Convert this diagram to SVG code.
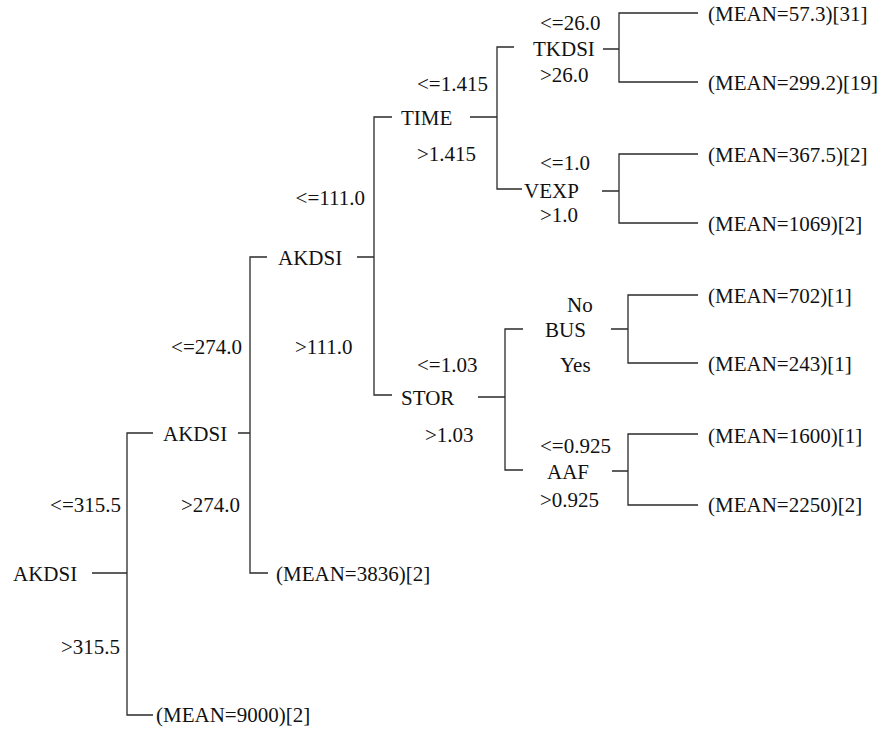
<svg xmlns="http://www.w3.org/2000/svg" width="886" height="731" viewBox="0 0 886 731">
<defs>
<marker id="none" markerWidth="1" markerHeight="1"/>
</defs>
<rect width="886" height="731" fill="#fff"/>
<g id="connectors" fill="none" stroke="#2a2a2a" stroke-width="1.3">
<path d="M92 573H127M153 433H127V715H153"/>
<path d="M238 433H250M267 257H250V573H268"/>
<path d="M357 257H374M392 117H374V395H392"/>
<path d="M470 117H497M514 47H497V189H522"/>
<path d="M603 49H619M698 13H619V82H698"/>
<path d="M602 191H619M698 154H619V223H698"/>
<path d="M478 397H505M523 329H505V470H523"/>
<path d="M611 329H628M698 295H628V363H698"/>
<path d="M612 471H628M698 434H628V505H698"/>
</g>
<g id="edge-labels" fill="#111">
<text font-family="Liberation Serif" font-size="21" text-anchor="end" x="121" y="512">&lt;=315.5</text>
<text font-family="Liberation Serif" font-size="21" text-anchor="end" x="120" y="654">&gt;315.5</text>
<text font-family="Liberation Serif" font-size="21" text-anchor="end" x="242" y="354">&lt;=274.0</text>
<text font-family="Liberation Serif" font-size="21" text-anchor="end" x="240" y="512">&gt;274.0</text>
<text font-family="Liberation Serif" font-size="21" text-anchor="end" x="365" y="205">&lt;=111.0</text>
<text font-family="Liberation Serif" font-size="21" x="295" y="354">&gt;111.0</text>
<text font-family="Liberation Serif" font-size="21" x="417" y="91">&lt;=1.415</text>
<text font-family="Liberation Serif" font-size="21" x="417" y="161">&gt;1.415</text>
<text font-family="Liberation Serif" font-size="21" x="540" y="30">&lt;=26.0</text>
<text font-family="Liberation Serif" font-size="21" x="540" y="82">&gt;26.0</text>
<text font-family="Liberation Serif" font-size="21" x="540" y="170">&lt;=1.0</text>
<text font-family="Liberation Serif" font-size="21" x="540" y="222">&gt;1.0</text>
<text font-family="Liberation Serif" font-size="21" x="417" y="372">&lt;=1.03</text>
<text font-family="Liberation Serif" font-size="21" x="425" y="442">&gt;1.03</text>
<text font-family="Liberation Serif" font-size="21" x="567" y="312">No</text>
<text font-family="Liberation Serif" font-size="21" x="560" y="372">Yes</text>
<text font-family="Liberation Serif" font-size="21" x="540" y="453">&lt;=0.925</text>
<text font-family="Liberation Serif" font-size="21" x="540" y="507">&gt;0.925</text>
</g>
<g id="n-root" fill="#111"><text font-family="Liberation Serif" font-size="21" x="13" y="581">AKDSI</text></g>
<g id="n-akdsi2" fill="#111"><text font-family="Liberation Serif" font-size="21" x="163" y="441">AKDSI</text></g>
<g id="n-akdsi3" fill="#111"><text font-family="Liberation Serif" font-size="21" x="278" y="265">AKDSI</text></g>
<g id="n-time" fill="#111"><text font-family="Liberation Serif" font-size="21" x="401" y="125">TIME</text></g>
<g id="n-tkdsi" fill="#111"><text font-family="Liberation Serif" font-size="21" x="533" y="56">TKDSI</text></g>
<g id="n-vexp" fill="#111"><text font-family="Liberation Serif" font-size="21" x="524" y="198">VEXP</text></g>
<g id="n-stor" fill="#111"><text font-family="Liberation Serif" font-size="21" x="401" y="405">STOR</text></g>
<g id="n-bus" fill="#111"><text font-family="Liberation Serif" font-size="21" x="545" y="337">BUS</text></g>
<g id="n-aaf" fill="#111"><text font-family="Liberation Serif" font-size="21" x="547" y="479">AAF</text></g>
<g id="leaf-1" fill="#111"><text font-family="Liberation Serif" font-size="21" x="708" y="21">(MEAN=57.3)[31]</text></g>
<g id="leaf-2" fill="#111"><text font-family="Liberation Serif" font-size="21" x="708" y="90">(MEAN=299.2)[19]</text></g>
<g id="leaf-3" fill="#111"><text font-family="Liberation Serif" font-size="21" x="708" y="162">(MEAN=367.5)[2]</text></g>
<g id="leaf-4" fill="#111"><text font-family="Liberation Serif" font-size="21" x="708" y="231">(MEAN=1069)[2]</text></g>
<g id="leaf-5" fill="#111"><text font-family="Liberation Serif" font-size="21" x="708" y="303">(MEAN=702)[1]</text></g>
<g id="leaf-6" fill="#111"><text font-family="Liberation Serif" font-size="21" x="708" y="371">(MEAN=243)[1]</text></g>
<g id="leaf-7" fill="#111"><text font-family="Liberation Serif" font-size="21" x="708" y="443">(MEAN=1600)[1]</text></g>
<g id="leaf-8" fill="#111"><text font-family="Liberation Serif" font-size="21" x="708" y="512">(MEAN=2250)[2]</text></g>
<g id="leaf-9" fill="#111"><text font-family="Liberation Serif" font-size="21" x="276" y="581">(MEAN=3836)[2]</text></g>
<g id="leaf-10" fill="#111"><text font-family="Liberation Serif" font-size="21" x="156" y="722">(MEAN=9000)[2]</text></g>
</svg>
